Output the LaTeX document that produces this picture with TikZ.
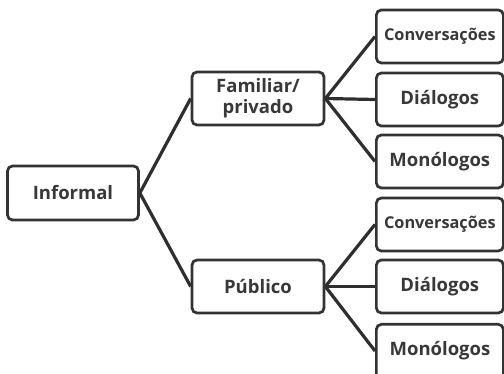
\documentclass[tikz,border=0pt]{standalone}
\usepackage{fontspec}
\setmainfont{Open Sans}
\begin{document}
\begin{tikzpicture}[x=1pt,y=-1pt,
  box/.style={draw=black!80, line width=2.7pt, rounded corners=5pt, fill=white,
    text=black!78, font=\bfseries\fontsize{18.5}{21}\selectfont, align=center, inner sep=0pt},
  small/.style={font=\bfseries\fontsize{16.3}{19}\selectfont},
  link/.style={draw=black!82, line width=3.2pt}]
\useasboundingbox (0,0) rectangle (504,374);
\clip (0,0) rectangle (504,374);
% root
\node[box, minimum width=131pt, minimum height=54pt] (inf) at (73,193) {Informal};
% second level
\node[box, minimum width=132pt, minimum height=53pt] (fam) at (258,98.5) {Familiar/\\privado};
\node[box, minimum width=132pt, minimum height=53pt] (pub) at (258,286.5) {Público};
% leaves
\node[box, small, minimum width=127pt, minimum height=53pt, anchor=west] (c1) at (375,36.5) {Conversações};
\node[box, minimum width=127pt, minimum height=53pt, anchor=west] (d1) at (375,99.5) {Diálogos};
\node[box, minimum width=127pt, minimum height=53pt, anchor=west] (m1) at (375,161.5) {Monólogos};
\node[box, small, minimum width=127pt, minimum height=53pt, anchor=west] (c2) at (375,224.5) {Conversações};
\node[box, minimum width=127pt, minimum height=53pt, anchor=west] (d2) at (375,286.5) {Diálogos};
\node[box, minimum width=127pt, minimum height=60pt, anchor=north west] (m2) at (375,323) {};
\node[text=black!78, font=\bfseries\fontsize{18.5}{21}\selectfont] (m2t) at (440,351) {Monólogos};
% connectors
\draw[link] (inf.east) -- (fam.west);
\draw[link] (inf.east) -- (pub.west);
\foreach \n in {c1,d1,m1} \draw[link] (fam.east) -- (\n.west);
\draw[link] (pub.east) -- (c2.west);
\draw[link] (pub.east) -- (d2.west);
\draw[link] (pub.east) -- (m2.west |- m2t);
\end{tikzpicture}
\end{document}
